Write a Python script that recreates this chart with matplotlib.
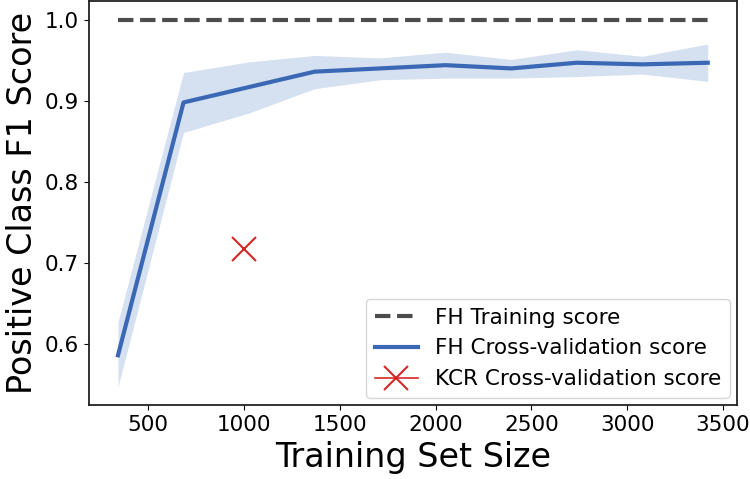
import matplotlib
matplotlib.use("Agg")
import matplotlib.pyplot as plt
import numpy as np

# training set sizes (10 %..100 % of 3420 samples)
train_sizes = [342, 684, 1026, 1368, 1710, 2052, 2394, 2736, 3078, 3420]
fh_train = [1.0, 1.0, 1.0, 1.0, 1.0, 1.0, 1.0, 1.0, 1.0, 1.0]
fh_cv = [0.586, 0.898, 0.917, 0.936, 0.940, 0.944, 0.940, 0.947, 0.945, 0.947]
fh_cv_hi = [0.627, 0.935, 0.948, 0.956, 0.953, 0.960, 0.951, 0.963, 0.955, 0.970]
fh_cv_lo = [0.547, 0.861, 0.885, 0.915, 0.926, 0.928, 0.928, 0.930, 0.933, 0.924]
kcr_size = [1000]
kcr_cv = [0.717]

fig = plt.figure(figsize=(7.5, 4.79), dpi=100)
ax = fig.add_axes([0.118, 0.154, 0.865, 0.843])

ax.fill_between(train_sizes, fh_cv_lo, fh_cv_hi, color='#d5e0f0', lw=0)
ax.plot(train_sizes, fh_train, '--', color='#4d4d4d', lw=3, label='FH Training score')
ax.plot(train_sizes, fh_cv, '-', color='#3a68b5', lw=3, label='FH Cross-validation score')
ax.plot(kcr_size, kcr_cv, 'x-', color='#d62728', ms=17, mew=1.5, lw=1.2,
        label='KCR Cross-validation score')

ax.set_xlabel('Training Set Size', fontsize=24)
ax.set_ylabel('Positive Class F1 Score', fontsize=24)
ax.tick_params(labelsize=15.5)
ax.set_yticks([0.6, 0.7, 0.8, 0.9, 1.0])
ax.set_xticks([500, 1000, 1500, 2000, 2500, 3000, 3500])
for s in ax.spines.values():
    s.set_color('#222222')
    s.set_linewidth(1.3)

ax.legend(loc='lower right', fontsize=15.5, handlelength=2.0, borderaxespad=0.35)

fig.savefig('out.png', dpi=100)
